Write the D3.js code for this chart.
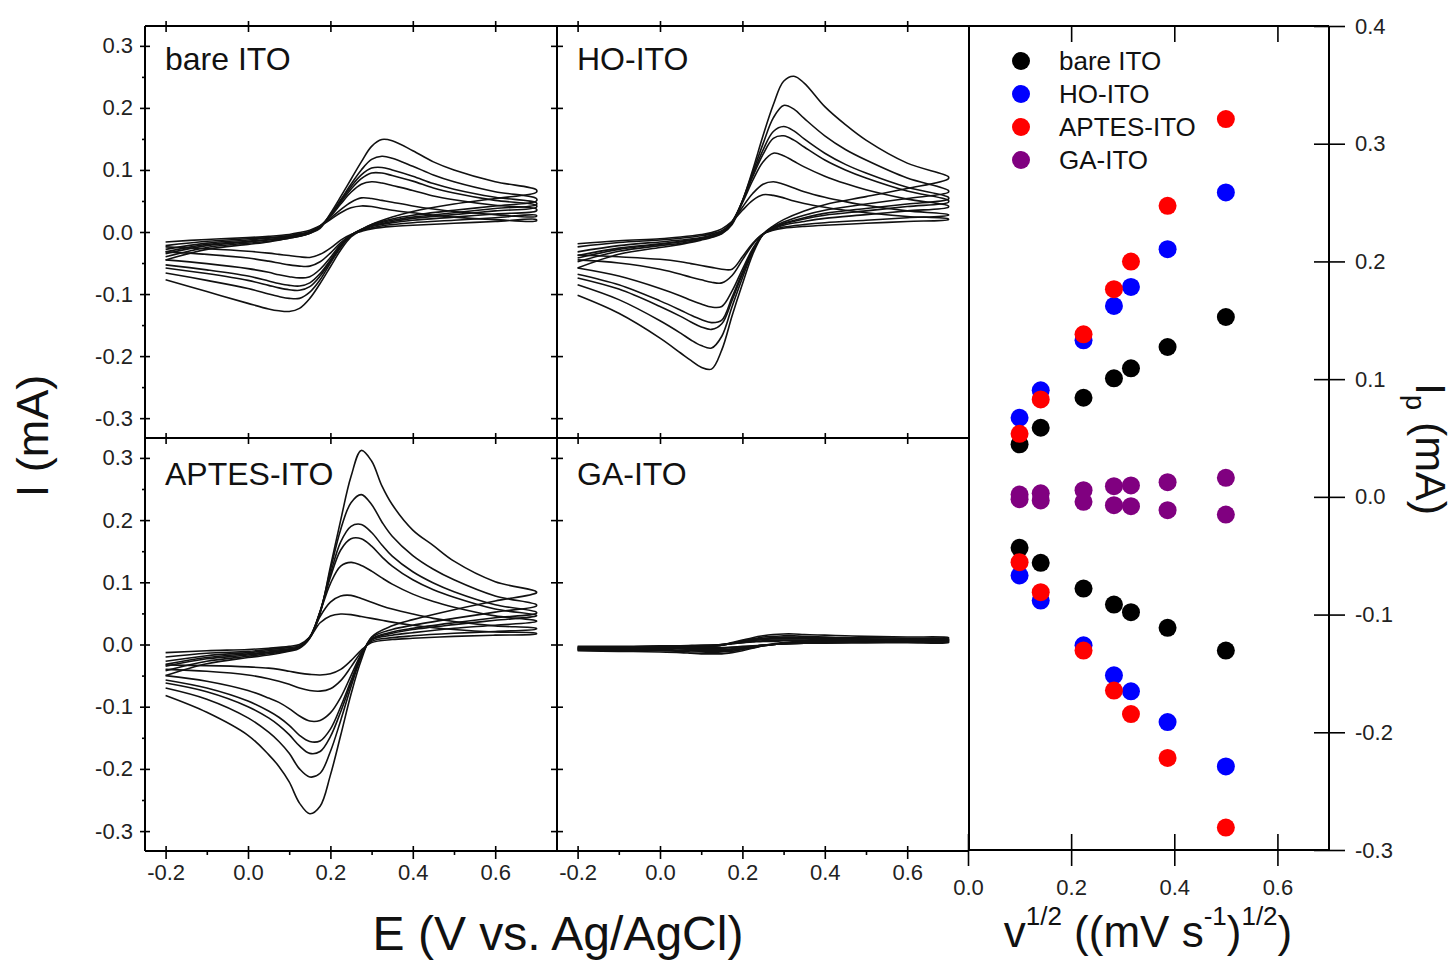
<!DOCTYPE html>
<html><head><meta charset="utf-8">
<script src="https://cdn.jsdelivr.net/npm/d3@7"></script>
<style>body{margin:0;background:#fff}</style>
</head><body>
<svg id="c" width="1455" height="960"></svg>
<script>
// ---------------- data ----------------
const panelNames = ["bare ITO", "HO-ITO", "APTES-ITO", "GA-ITO"];
// potential grids (V) for forward (anodic) and reverse (cathodic) sweeps
const eFwd = [-0.2,-0.1,0.0,0.05,0.1,0.125,0.15,0.175,0.2,0.225,0.25,0.275,0.3,0.325,0.35,0.4,0.45,0.5,0.6,0.7];
const eRev = [0.7,0.6,0.5,0.4,0.35,0.3,0.275,0.25,0.225,0.2,0.175,0.15,0.125,0.1,0.075,0.05,0.0,-0.1,-0.2];

const bareFwd = [
 [-0.045,-0.028,-0.02,-0.016,-0.01,-0.007,-0.002,0.006,0.03,0.057,0.085,0.113,0.138,0.149,0.147,0.131,0.113,0.1,0.081,0.068],
 [-0.04,-0.025,-0.018,-0.015,-0.01,-0.007,-0.002,0.008,0.028,0.052,0.077,0.1,0.117,0.122,0.119,0.106,0.092,0.081,0.065,0.054],
 [-0.035,-0.022,-0.016,-0.013,-0.009,-0.006,-0.002,0.009,0.027,0.05,0.073,0.092,0.103,0.104,0.1,0.09,0.078,0.069,0.056,0.047],
 [-0.032,-0.02,-0.015,-0.012,-0.008,-0.005,-0.001,0.009,0.026,0.048,0.069,0.086,0.095,0.095,0.091,0.082,0.071,0.063,0.051,0.043],
 [-0.028,-0.018,-0.013,-0.01,-0.007,-0.004,0.0,0.01,0.025,0.045,0.064,0.077,0.081,0.079,0.075,0.067,0.058,0.052,0.043,0.037],
 [-0.022,-0.015,-0.011,-0.009,-0.006,-0.003,0.001,0.009,0.022,0.036,0.048,0.055,0.054,0.051,0.048,0.042,0.037,0.033,0.028,0.025],
 [-0.016,-0.012,-0.009,-0.007,-0.004,-0.001,0.003,0.01,0.02,0.031,0.039,0.042,0.041,0.038,0.035,0.031,0.027,0.024,0.02,0.018]
];
const bareRev = [
 [0.064,0.054,0.045,0.033,0.024,0.012,0.003,-0.008,-0.029,-0.056,-0.083,-0.107,-0.123,-0.128,-0.127,-0.124,-0.115,-0.096,-0.077],
 [0.05,0.042,0.035,0.027,0.021,0.012,0.004,-0.006,-0.025,-0.05,-0.077,-0.097,-0.107,-0.107,-0.104,-0.1,-0.091,-0.078,-0.066],
 [0.044,0.038,0.031,0.024,0.019,0.011,0.004,-0.005,-0.023,-0.047,-0.071,-0.088,-0.094,-0.093,-0.09,-0.086,-0.078,-0.067,-0.058],
 [0.04,0.034,0.028,0.022,0.017,0.01,0.004,-0.005,-0.022,-0.045,-0.067,-0.082,-0.087,-0.086,-0.083,-0.079,-0.071,-0.061,-0.053],
 [0.034,0.029,0.024,0.019,0.015,0.009,0.003,-0.005,-0.02,-0.041,-0.06,-0.072,-0.074,-0.072,-0.069,-0.065,-0.059,-0.051,-0.045],
 [0.027,0.023,0.019,0.015,0.012,0.007,0.002,-0.005,-0.017,-0.034,-0.048,-0.055,-0.055,-0.053,-0.05,-0.047,-0.042,-0.036,-0.032],
 [0.02,0.017,0.014,0.011,0.009,0.005,0.001,-0.004,-0.013,-0.026,-0.036,-0.041,-0.04,-0.038,-0.036,-0.034,-0.031,-0.027,-0.024]
];

const hoFwd = [
 [-0.058,-0.036,-0.025,-0.02,-0.013,-0.009,-0.003,0.012,0.05,0.1,0.155,0.205,0.243,0.251,0.24,0.202,0.173,0.148,0.111,0.089],
 [-0.048,-0.031,-0.022,-0.018,-0.012,-0.008,-0.002,0.014,0.05,0.096,0.142,0.184,0.204,0.198,0.183,0.155,0.133,0.116,0.087,0.067],
 [-0.042,-0.028,-0.02,-0.016,-0.011,-0.007,-0.001,0.016,0.05,0.092,0.132,0.162,0.17,0.163,0.15,0.127,0.109,0.095,0.072,0.056],
 [-0.038,-0.026,-0.019,-0.015,-0.01,-0.006,-0.001,0.016,0.049,0.089,0.125,0.151,0.155,0.148,0.137,0.116,0.1,0.087,0.066,0.051],
 [-0.032,-0.022,-0.016,-0.013,-0.009,-0.005,0.0,0.017,0.047,0.083,0.113,0.127,0.123,0.114,0.105,0.09,0.078,0.068,0.053,0.042],
 [-0.024,-0.017,-0.013,-0.01,-0.006,-0.003,0.002,0.016,0.04,0.062,0.077,0.081,0.077,0.071,0.065,0.056,0.049,0.043,0.034,0.028],
 [-0.019,-0.014,-0.011,-0.008,-0.004,-0.001,0.005,0.017,0.035,0.051,0.06,0.059,0.055,0.05,0.046,0.04,0.035,0.031,0.025,0.021]
];
const hoRev = [
 [0.086,0.07,0.057,0.044,0.034,0.02,0.01,-0.004,-0.036,-0.084,-0.135,-0.19,-0.221,-0.218,-0.207,-0.195,-0.171,-0.131,-0.102],
 [0.064,0.054,0.045,0.035,0.027,0.016,0.008,-0.004,-0.032,-0.074,-0.12,-0.168,-0.187,-0.183,-0.174,-0.163,-0.143,-0.109,-0.085],
 [0.053,0.045,0.038,0.03,0.023,0.014,0.007,-0.004,-0.03,-0.068,-0.11,-0.148,-0.157,-0.153,-0.145,-0.136,-0.12,-0.092,-0.074],
 [0.048,0.041,0.034,0.027,0.021,0.013,0.006,-0.004,-0.029,-0.065,-0.105,-0.142,-0.146,-0.141,-0.134,-0.126,-0.111,-0.085,-0.068],
 [0.04,0.034,0.028,0.022,0.017,0.011,0.005,-0.004,-0.027,-0.06,-0.095,-0.12,-0.121,-0.116,-0.11,-0.103,-0.091,-0.071,-0.058],
 [0.027,0.023,0.019,0.015,0.012,0.008,0.004,-0.003,-0.02,-0.045,-0.07,-0.082,-0.081,-0.077,-0.073,-0.068,-0.06,-0.05,-0.045],
 [0.02,0.017,0.014,0.011,0.009,0.006,0.003,-0.003,-0.018,-0.04,-0.06,-0.06,-0.057,-0.054,-0.051,-0.048,-0.044,-0.04,-0.037]
];

const aptesFwd = [
 [-0.05,-0.031,-0.021,-0.017,-0.011,-0.006,0.01,0.05,0.125,0.2,0.27,0.312,0.295,0.255,0.225,0.184,0.159,0.134,0.101,0.085],
 [-0.042,-0.027,-0.019,-0.015,-0.01,-0.005,0.011,0.052,0.12,0.185,0.228,0.241,0.225,0.197,0.174,0.143,0.121,0.104,0.078,0.064],
 [-0.035,-0.023,-0.017,-0.013,-0.009,-0.004,0.011,0.053,0.113,0.165,0.19,0.193,0.18,0.16,0.142,0.117,0.099,0.085,0.064,0.052],
 [-0.032,-0.021,-0.015,-0.012,-0.008,-0.004,0.012,0.053,0.108,0.152,0.17,0.17,0.158,0.141,0.126,0.104,0.088,0.076,0.057,0.047],
 [-0.027,-0.018,-0.013,-0.01,-0.007,-0.003,0.012,0.052,0.098,0.126,0.132,0.127,0.118,0.107,0.097,0.081,0.069,0.06,0.046,0.038],
 [-0.02,-0.014,-0.011,-0.008,-0.005,-0.002,0.012,0.045,0.068,0.078,0.079,0.074,0.068,0.062,0.057,0.049,0.042,0.037,0.03,0.026],
 [-0.013,-0.01,-0.008,-0.006,-0.003,0.0,0.012,0.035,0.046,0.049,0.048,0.045,0.042,0.039,0.036,0.031,0.027,0.024,0.02,0.018]
];
const aptesRev = [
 [0.083,0.07,0.056,0.04,0.03,0.012,-0.025,-0.08,-0.146,-0.21,-0.26,-0.272,-0.255,-0.221,-0.196,-0.177,-0.146,-0.109,-0.082],
 [0.062,0.052,0.042,0.031,0.024,0.011,-0.02,-0.068,-0.122,-0.172,-0.207,-0.213,-0.2,-0.175,-0.156,-0.141,-0.118,-0.088,-0.07],
 [0.05,0.043,0.035,0.026,0.02,0.009,-0.018,-0.062,-0.108,-0.148,-0.172,-0.175,-0.163,-0.145,-0.13,-0.118,-0.1,-0.076,-0.062],
 [0.046,0.039,0.032,0.024,0.018,0.008,-0.017,-0.058,-0.1,-0.136,-0.155,-0.156,-0.146,-0.13,-0.117,-0.107,-0.091,-0.07,-0.057],
 [0.037,0.031,0.026,0.019,0.015,0.007,-0.015,-0.05,-0.085,-0.11,-0.122,-0.123,-0.115,-0.103,-0.093,-0.086,-0.074,-0.059,-0.05],
 [0.025,0.021,0.018,0.014,0.011,0.005,-0.012,-0.036,-0.058,-0.071,-0.075,-0.074,-0.07,-0.064,-0.059,-0.055,-0.049,-0.043,-0.04],
 [0.017,0.015,0.013,0.01,0.008,0.003,-0.009,-0.026,-0.04,-0.047,-0.049,-0.048,-0.046,-0.043,-0.04,-0.038,-0.036,-0.034,-0.033]
];

const gaFwd = [
 [-0.009,-0.007,-0.006,-0.005,-0.004,-0.003,-0.001,0.003,0.007,0.011,0.014,0.016,0.017,0.017,0.016,0.015,0.014,0.013,0.012,0.011],
 [-0.008,-0.006,-0.005,-0.004,-0.003,-0.002,-0.001,0.002,0.006,0.009,0.012,0.013,0.014,0.014,0.013,0.012,0.011,0.011,0.01,0.009],
 [-0.007,-0.005,-0.004,-0.004,-0.003,-0.002,-0.001,0.002,0.005,0.008,0.01,0.011,0.012,0.012,0.011,0.011,0.01,0.009,0.008,0.008],
 [-0.006,-0.005,-0.004,-0.003,-0.003,-0.002,-0.001,0.002,0.004,0.007,0.009,0.01,0.011,0.011,0.01,0.01,0.009,0.008,0.008,0.007],
 [-0.005,-0.004,-0.004,-0.003,-0.002,-0.002,0.0,0.002,0.004,0.006,0.008,0.009,0.009,0.009,0.009,0.008,0.008,0.007,0.007,0.006],
 [-0.004,-0.004,-0.003,-0.003,-0.002,-0.001,0.0,0.002,0.003,0.005,0.006,0.007,0.007,0.007,0.007,0.006,0.006,0.006,0.005,0.005],
 [-0.003,-0.003,-0.002,-0.002,-0.001,-0.001,0.0,0.001,0.003,0.004,0.005,0.005,0.006,0.006,0.005,0.005,0.005,0.004,0.004,0.004]
];
const gaRev = [
 [0.01,0.009,0.008,0.006,0.005,0.003,0.001,-0.002,-0.006,-0.01,-0.013,-0.015,-0.015,-0.015,-0.014,-0.013,-0.012,-0.011,-0.01],
 [0.008,0.007,0.006,0.005,0.004,0.002,0.0,-0.002,-0.005,-0.008,-0.011,-0.012,-0.013,-0.012,-0.012,-0.011,-0.01,-0.01,-0.009],
 [0.007,0.006,0.005,0.004,0.003,0.002,0.0,-0.002,-0.004,-0.007,-0.009,-0.011,-0.011,-0.011,-0.01,-0.01,-0.009,-0.008,-0.008],
 [0.006,0.005,0.005,0.004,0.003,0.002,0.0,-0.002,-0.004,-0.006,-0.008,-0.01,-0.01,-0.01,-0.009,-0.009,-0.008,-0.008,-0.007],
 [0.005,0.005,0.004,0.003,0.002,0.001,0.0,-0.001,-0.003,-0.005,-0.007,-0.008,-0.008,-0.008,-0.008,-0.007,-0.007,-0.006,-0.006],
 [0.004,0.004,0.003,0.003,0.002,0.001,0.0,-0.001,-0.003,-0.004,-0.005,-0.006,-0.006,-0.006,-0.006,-0.006,-0.005,-0.005,-0.005],
 [0.003,0.003,0.003,0.002,0.002,0.001,0.0,-0.001,-0.002,-0.003,-0.004,-0.005,-0.005,-0.005,-0.005,-0.004,-0.004,-0.004,-0.004]
];

// peak current vs square root of scan rate
const sqrtV   = [0.1, 0.141, 0.224, 0.283, 0.316, 0.387, 0.5];
const bareAn  = [0.0446, 0.0587, 0.0842, 0.1007, 0.1092, 0.1273, 0.1528];
const bareCa  = [-0.0433, -0.056, -0.0779, -0.0915, -0.098, -0.1113, -0.1306];
const hoAn    = [0.0672, 0.0905, 0.133, 0.1622, 0.1783, 0.2104, 0.2586];
const hoCa    = [-0.0668, -0.0881, -0.1261, -0.1516, -0.1652, -0.1913, -0.229];
const aptesAn = [0.0536, 0.0828, 0.1381, 0.1764, 0.1999, 0.2472, 0.3209];
const aptesCa = [-0.0555, -0.081, -0.1306, -0.1646, -0.1845, -0.2218, -0.2809];
const gaAn    = [0.002, 0.003, 0.0057, 0.0091, 0.0097, 0.0125, 0.0162];
const gaCa    = [-0.002, -0.003, -0.0042, -0.0071, -0.0079, -0.0113, -0.015];
const seriesNames  = ["bare ITO", "HO-ITO", "APTES-ITO", "GA-ITO"];
const seriesColors = ["#000000", "#0000ff", "#ff0000", "#800080"];

// ticks
const eTicks = [-0.2, 0.0, 0.2, 0.4, 0.6];
const eTickLabels = ["-0.2", "0.0", "0.2", "0.4", "0.6"];
const eMinor = [-0.1, 0.1, 0.3, 0.5];
const iTicks = [-0.3, -0.2, -0.1, 0.0, 0.1, 0.2, 0.3];
const iTickLabels = ["-0.3", "-0.2", "-0.1", "0.0", "0.1", "0.2", "0.3"];
const iMinor = [-0.25, -0.15, -0.05, 0.05, 0.15, 0.25];
const vTicks = [0.0, 0.2, 0.4, 0.6];
const vTickLabels = ["0.0", "0.2", "0.4", "0.6"];
const ipTicks = [-0.3, -0.2, -0.1, 0.0, 0.1, 0.2, 0.3, 0.4];
const ipTickLabels = ["-0.3", "-0.2", "-0.1", "0.0", "0.1", "0.2", "0.3", "0.4"];

// ---------------- drawing ----------------
const FONT = "'Liberation Sans', Arial, Helvetica, sans-serif";
const svg = d3.select("#c");
svg.append("rect").attr("width", 1455).attr("height", 960).attr("fill", "#fff");

const panels = [
  {name: panelNames[0], fwd: bareFwd,  rev: bareRev,  x0: 145, x1: 557, y0: 26,  y1: 438, col: 0, row: 0},
  {name: panelNames[1], fwd: hoFwd,    rev: hoRev,    x0: 557, x1: 969, y0: 26,  y1: 438, col: 1, row: 0},
  {name: panelNames[2], fwd: aptesFwd, rev: aptesRev, x0: 145, x1: 557, y0: 438, y1: 851, col: 0, row: 1},
  {name: panelNames[3], fwd: gaFwd,    rev: gaRev,    x0: 557, x1: 969, y0: 438, y1: 851, col: 1, row: 1}
];

function tidy(g, withText) {
  g.attr("font-family", FONT).attr("font-size", 22);
  g.select(".domain").remove();
  g.selectAll("line").attr("stroke", "#000").attr("stroke-width", 1.6);
  g.selectAll("text").attr("fill", "#222");
  if (!withText) g.selectAll("text").remove();
}
function frameLine(x1, y1, x2, y2) {
  svg.append("line").attr("x1", x1).attr("y1", y1).attr("x2", x2).attr("y2", y2)
     .attr("stroke", "#000").attr("stroke-width", 2);
}

panels.forEach(p => {
  const xE = d3.scaleLinear().domain([-0.25, 0.75]).range([p.x0, p.x1]);
  const yI = d3.scaleLinear().domain([-0.332, 0.332]).range([p.y1, p.y0]);
  const g = svg.append("g");

  const line = d3.line().x(d => xE(d[0])).y(d => yI(d[1])).curve(d3.curveCatmullRom.alpha(0.5));
  p.fwd.forEach((f, k) => {
    const pts = eFwd.map((e, i) => [e, f[i]]).concat(eRev.map((e, i) => [e, p.rev[k][i]]));
    g.append("path").attr("d", line(pts)).attr("fill", "none")
      .attr("stroke", "#111").attr("stroke-width", 1.6).attr("stroke-linejoin", "round");
  });

  // left axis of panel
  if (p.col === 0) {
    const a = svg.append("g").attr("transform", `translate(${p.x0},0)`)
      .call(d3.axisLeft(yI).tickValues(iTicks).tickSize(5).tickSizeOuter(0).tickPadding(7)
        .tickFormat((d, i) => iTickLabels[i]));
    tidy(a, true);
    const m = svg.append("g").attr("transform", `translate(${p.x0},0)`)
      .call(d3.axisLeft(yI).tickValues(iMinor).tickSize(3).tickSizeOuter(0));
    tidy(m, false);
    const inn = svg.append("g").attr("transform", `translate(${p.x0},0)`)
      .call(d3.axisRight(yI).tickValues(iTicks).tickSize(5).tickSizeOuter(0));
    tidy(inn, false);
  } else {
    const a = svg.append("g").attr("transform", `translate(${p.x0},0)`)
      .call(d3.axisLeft(yI).tickValues(iTicks).tickSize(6).tickSizeOuter(0));
    tidy(a, false);
    const b = svg.append("g").attr("transform", `translate(${p.x0},0)`)
      .call(d3.axisRight(yI).tickValues(iTicks).tickSize(6).tickSizeOuter(0));
    tidy(b, false);
  }
  // top ticks (crossing)
  const t1 = svg.append("g").attr("transform", `translate(0,${p.y0})`)
    .call(d3.axisTop(xE).tickValues(eTicks).tickSize(5).tickSizeOuter(0));
  tidy(t1, false);
  const t2 = svg.append("g").attr("transform", `translate(0,${p.y0})`)
    .call(d3.axisBottom(xE).tickValues(eTicks).tickSize(6).tickSizeOuter(0));
  tidy(t2, false);
  if (p.row === 1) {
    const b1 = svg.append("g").attr("transform", `translate(0,${p.y1})`)
      .call(d3.axisBottom(xE).tickValues(eTicks).tickSize(8).tickSizeOuter(0).tickPadding(5)
        .tickFormat((d, i) => eTickLabels[i]));
    tidy(b1, true);
    const b2 = svg.append("g").attr("transform", `translate(0,${p.y1})`)
      .call(d3.axisBottom(xE).tickValues(eMinor).tickSize(4).tickSizeOuter(0));
    tidy(b2, false);
    const b3 = svg.append("g").attr("transform", `translate(0,${p.y1})`)
      .call(d3.axisTop(xE).tickValues(eTicks).tickSize(5).tickSizeOuter(0));
    tidy(b3, false);
  }
  // panel label
  svg.append("text").attr("x", p.x0 + 20).attr("y", p.row === 0 ? p.y0 + 44 : p.y0 + 47)
    .attr("font-family", FONT).attr("font-size", 32).attr("fill", "#111").text(p.name);
});

// frames of CV panels
frameLine(145, 26, 145, 851);
frameLine(557, 26, 557, 851);
frameLine(969, 26, 969, 851);
frameLine(145, 438, 969, 438);
frameLine(145, 851, 969, 851);
frameLine(145, 26, 969, 26);

// ---------------- scatter panel ----------------
const xs = d3.scaleLinear().domain([0, 0.7]).range([968, 1329]);
const ys = d3.scaleLinear().domain([-0.3, 0.4]).range([850, 26]);
frameLine(xs(0), ys(0.4), xs(0.7), ys(0.4));
frameLine(xs(0), ys(-0.3), xs(0.7), ys(-0.3));
frameLine(xs(0.7), ys(0.4), xs(0.7), ys(-0.3));

const sTop = svg.append("g").attr("transform", `translate(0,${ys(0.4)})`)
  .call(d3.axisBottom(xs).tickValues(vTicks.slice(1)).tickSize(16).tickSizeOuter(0));
tidy(sTop, false);
const sBot = svg.append("g").attr("transform", `translate(0,${ys(-0.3)})`)
  .call(d3.axisBottom(xs).tickValues(vTicks).tickSize(16).tickSizeOuter(0).tickPadding(13)
    .tickFormat((d, i) => vTickLabels[i]));
tidy(sBot, true);
const sBotIn = svg.append("g").attr("transform", `translate(0,${ys(-0.3)})`)
  .call(d3.axisTop(xs).tickValues(vTicks).tickSize(16).tickSizeOuter(0));
tidy(sBotIn, false);
const sR = svg.append("g").attr("transform", `translate(${xs(0.7)},0)`)
  .call(d3.axisRight(ys).tickValues(ipTicks).tickSize(16).tickSizeOuter(0).tickPadding(10)
    .tickFormat((d, i) => ipTickLabels[i]));
tidy(sR, true);
const sRIn = svg.append("g").attr("transform", `translate(${xs(0.7)},0)`)
  .call(d3.axisLeft(ys).tickValues(ipTicks).tickSize(15).tickSizeOuter(0));
tidy(sRIn, false);

const scatterSets = [[bareAn, bareCa], [hoAn, hoCa], [aptesAn, aptesCa], [gaAn, gaCa]];
scatterSets.forEach((set, s) => {
  set.forEach(arr => {
    svg.append("g").selectAll("circle").data(arr).join("circle")
      .attr("cx", (d, i) => xs(sqrtV[i])).attr("cy", d => ys(d)).attr("r", 9)
      .attr("fill", seriesColors[s]);
  });
});

// legend
const lg = svg.append("g");
seriesNames.forEach((n, i) => {
  lg.append("circle").attr("cx", 1021).attr("cy", 61 + i * 33).attr("r", 9).attr("fill", seriesColors[i]);
  lg.append("text").attr("x", 1059).attr("y", 61 + i * 33 + 9).attr("font-family", FONT)
    .attr("font-size", 26).attr("fill", "#111").text(n);
});

// ---------------- axis titles ----------------
svg.append("text").attr("transform", "translate(48,436) rotate(-90)").attr("text-anchor", "middle")
  .attr("font-family", FONT).attr("font-size", 45).attr("fill", "#111").text("I (mA)");

const rt = svg.append("text").attr("transform", "translate(1416,383) rotate(90)")
  .attr("font-family", FONT).attr("font-size", 43).attr("fill", "#111");
rt.append("tspan").text("I");
rt.append("tspan").attr("font-size", 27).attr("dy", 10).text("p");
rt.append("tspan").attr("dy", -10).text(" (mA)");

svg.append("text").attr("x", 558).attr("y", 950).attr("text-anchor", "middle")
  .attr("font-family", FONT).attr("font-size", 48).attr("fill", "#111").text("E (V vs. Ag/AgCl)");

const xt = svg.append("text").attr("x", 1148).attr("y", 947).attr("text-anchor", "middle")
  .attr("font-family", FONT).attr("font-size", 44).attr("fill", "#111");
xt.append("tspan").text("v");
xt.append("tspan").attr("font-size", 26).attr("dy", -22).text("1/2");
xt.append("tspan").attr("dy", 22).text(" ((mV s");
xt.append("tspan").attr("font-size", 26).attr("dy", -22).text("-1");
xt.append("tspan").attr("dy", 22).text(")");
xt.append("tspan").attr("font-size", 26).attr("dy", -22).text("1/2");
xt.append("tspan").attr("dy", 22).text(")");
</script>
</body></html>
